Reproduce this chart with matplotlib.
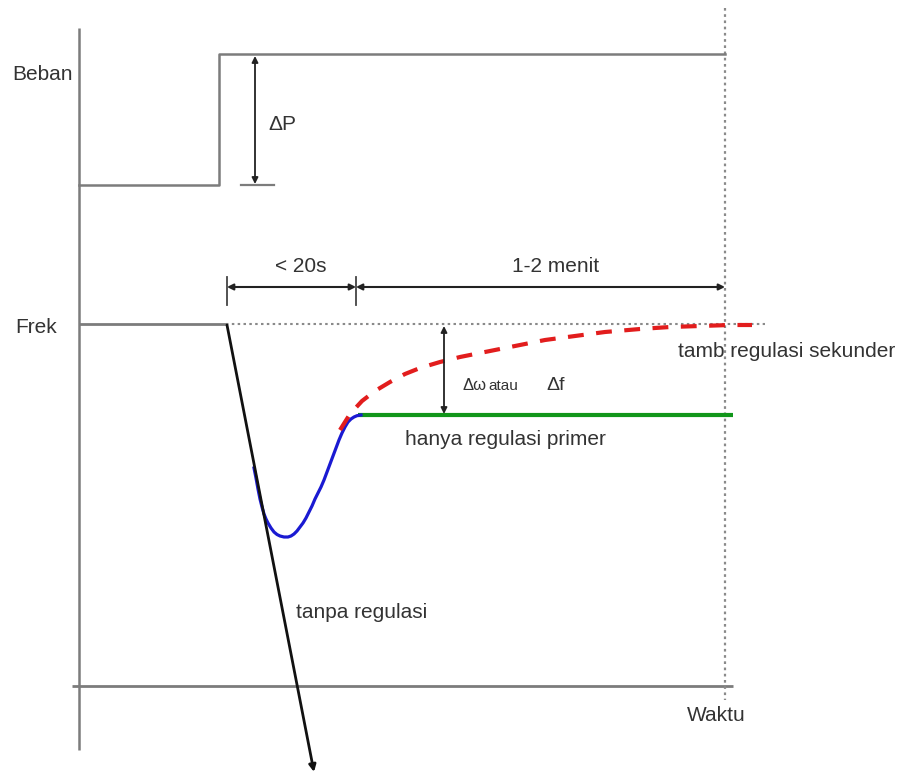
import matplotlib
matplotlib.use("Agg")
import matplotlib.pyplot as plt

plt.rcParams["font.family"] = ["Liberation Sans", "DejaVu Sans"]

# diagram coordinates: x = time (left -> right), y = level (top -> bottom, pixel-like)
axis_x = 79
axis_top, axis_bottom = 28, 750
base_y = 686
base_x = [72, 733]
t_end = 725

# load (Beban) step
load_x = [79, 219, 219, t_end]
load_y = [185, 185, 54, 54]

# nominal frequency
frek_y = 324
frek_solid_x = [79, 226]
frek_dotted_x = [226, 765]

# without regulation (straight drop)
drop_x = [227, 314]
drop_y = [325, 772]

# primary regulation transient (blue) and steady level (green)
blue_x = [254, 256, 258, 260, 262, 264, 266, 268, 271, 274, 277, 280, 284,
          288, 291, 294, 297, 300, 303, 306, 309, 312, 315, 318, 321, 324,
          327, 330, 333, 336, 339, 342, 345, 348, 351, 354, 357, 361]
blue_y = [468, 478, 489, 499, 507, 514, 519, 523, 528, 532, 534.5, 536, 537,
          537, 536, 534, 531, 527, 523, 518, 512, 506, 499, 493, 487, 480,
          472, 464, 456, 448, 440, 433, 427, 422, 419, 417, 415.7, 415]
green_x = [358, 733]
green_y = 415

# secondary regulation recovery (red dashed)
red_x = [340, 350, 362, 375, 390, 405, 420, 440, 460, 480, 500, 520, 545,
         575, 605, 640, 670, 700, 730, 752]
red_y = [430, 414, 401, 391, 382, 374, 368, 362, 357, 353, 349, 345, 340,
         336, 332, 329, 327, 326, 325, 325]

# time spans
span_y = 287
span_ticks = [227, 356]
span_end = t_end

gray = "#7c7c7c"
dot_gray = "#8a8a8a"
txt = "#333333"

fig = plt.figure(figsize=(9.03, 7.78), dpi=100)
ax = fig.add_axes([0, 0, 1, 1])
ax.set_xlim(0, 903)
ax.set_ylim(778, 0)
ax.axis("off")

# axes
ax.plot([axis_x, axis_x], [axis_top, axis_bottom], color=gray, lw=1.8, solid_capstyle="butt")
ax.plot(base_x, [base_y, base_y], color=gray, lw=2.0, solid_capstyle="butt")
ax.plot([t_end, t_end], [8, 700], color=dot_gray, lw=1.6, ls=(0, (1.2, 1.6)))

# load
ax.plot(load_x, load_y, color=gray, lw=1.8)
ax.plot([241, 274], [185, 185], color=gray, lw=1.6)
ax.annotate("", xy=(255, 56), xytext=(255, 184),
            arrowprops=dict(arrowstyle="<|-|>", color="#222222", lw=1.3,
                            mutation_scale=9, shrinkA=0, shrinkB=0))

# frequency reference
ax.plot(frek_solid_x, [frek_y, frek_y], color=gray, lw=2.0, solid_capstyle="butt")
ax.plot(frek_dotted_x, [frek_y, frek_y], color=dot_gray, lw=1.5, ls=(0, (1.2, 1.6)))

# responses
ax.plot(green_x, [green_y, green_y], color="#11961a", lw=3.0, solid_capstyle="butt")
ax.plot(blue_x, blue_y, color="#1a1ad2", lw=2.3, solid_joinstyle="round")
ax.plot(red_x, red_y, color="#e21d1d", lw=3.0, ls=(0, (3.8, 3.0)))
ax.annotate("", xy=(drop_x[1], drop_y[1]), xytext=(drop_x[0], drop_y[0]),
            arrowprops=dict(arrowstyle="-|>", color="#111111", lw=2.0,
                            mutation_scale=10, shrinkA=0, shrinkB=0))

# delta omega arrow
ax.annotate("", xy=(444, 326), xytext=(444, 414),
            arrowprops=dict(arrowstyle="<|-|>", color="#222222", lw=1.3,
                            mutation_scale=9, shrinkA=0, shrinkB=0))

# time span dimension lines
for tx in span_ticks:
    ax.plot([tx, tx], [277, 305], color="#444444", lw=1.3)
arrow_kw = dict(arrowstyle="<|-|>", color="#222222", lw=1.5,
                mutation_scale=9, shrinkA=0, shrinkB=0)
ax.annotate("", xy=(span_ticks[0], span_y), xytext=(span_ticks[1], span_y), arrowprops=arrow_kw)
ax.annotate("", xy=(span_ticks[1], span_y), xytext=(span_end, span_y), arrowprops=arrow_kw)

# labels
fs = 15
ax.text(12, 80, "Beban", fontsize=fs, color=txt, va="baseline")
ax.text(268, 130, "ΔP", fontsize=fs, color=txt, va="baseline")
ax.text(15, 333, "Frek", fontsize=fs, color=txt, va="baseline")
ax.text(301, 272, "< 20s", fontsize=fs, color=txt, va="baseline", ha="center")
ax.text(556, 272, "1-2 menit", fontsize=fs, color=txt, va="baseline", ha="center")
ax.text(678, 357, "tamb regulasi sekunder", fontsize=fs, color=txt, va="baseline")
ax.text(405, 445, "hanya regulasi primer", fontsize=fs, color=txt, va="baseline")
ax.text(463, 390, "Δω", fontsize=12, color=txt, va="baseline")
ax.text(488, 390, "atau", fontsize=11, color=txt, va="baseline")
ax.text(546, 390, "Δf", fontsize=14, color=txt, va="baseline")
ax.text(296, 618, "tanpa regulasi", fontsize=fs, color=txt, va="baseline")
ax.text(687, 721, "Waktu", fontsize=fs, color=txt, va="baseline")

fig.savefig("out.png", dpi=100)
